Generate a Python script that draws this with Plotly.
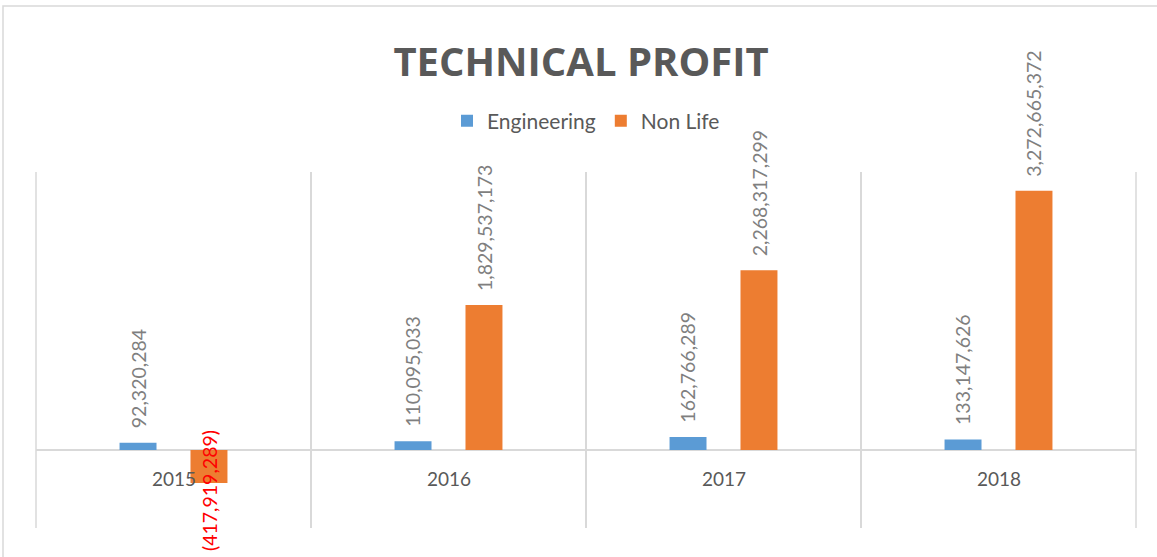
import plotly.graph_objects as go

years = ["2015", "2016", "2017", "2018"]
engineering = [92320284, 110095033, 162766289, 133147626]
non_life = [-417919289, 1829537173, 2268317299, 3272665372]
series_names = ["Engineering", "Non Life"]
colors = ["#5B9BD5", "#ED7D31"]

FONT = "Lato, Carlito, Calibri, sans-serif"
TITLE_FONT = "Open Sans, sans-serif"
W, H = 1157, 557
ML, MR, MT, MB = 36, 21, 172, 29
plot_w = W - ML - MR
plot_h = H - MT - MB
BARGAP = 0.484
BARGROUPGAP = 0.479

fig = go.Figure()
for name, vals, col in zip(series_names, [engineering, non_life], colors):
    fig.add_trace(go.Bar(x=years, y=vals, name=name, marker=dict(color=col, line=dict(width=0))))


def fmt(v):
    s = f"{abs(v):,}"
    return f"({s})" if v < 0 else s


cat_px = plot_w / len(years)
slot_px = cat_px * (1 - BARGAP) / 2
annotations = []
# category labels sitting just below the zero line (x given as category index)
for idx, yr in enumerate(years):
    annotations.append(dict(x=idx, y=0, xref="x", yref="y", text=yr, showarrow=False,
                            yanchor="middle", yshift=-29,
                            font=dict(family=FONT, size=19, color="#595959")))
# data labels
for i, vals in enumerate([engineering, non_life]):
    shift = (i - 0.5) * slot_px
    for idx, v in enumerate(vals):
        if v >= 0:
            annotations.append(dict(x=idx, y=v, xref="x", yref="y", text=fmt(v), showarrow=False,
                                    textangle=-90, xshift=shift, yanchor="bottom", yshift=12,
                                    font=dict(family=FONT, size=19.5, color="#7F7F7F")))
        else:
            annotations.append(dict(x=idx, y=v, xref="x", yref="y", text=fmt(v), showarrow=False,
                                    textangle=-90, xshift=shift, yanchor="middle", yshift=-7,
                                    font=dict(family=FONT, size=19.5, color="#FF0000")))

# outer chart frame (cropped by window on right and bottom)
fx0 = (3 - ML) / plot_w
fx1 = (W + 5 - ML) / plot_w
fy1 = (H - MB - 6) / plot_h
fy0 = (H - MB - (H + 5)) / plot_h

shapes = [dict(type="rect", xref="paper", yref="paper", x0=fx0, x1=fx1, y0=fy0, y1=fy1,
               line=dict(color="#D9D9D9", width=1.5), layer="below")]
# outer category boundary lines at both ends of the plot
for xb in (0, 1):
    shapes.append(dict(type="line", xref="paper", yref="paper", x0=xb, x1=xb, y0=0, y1=1,
                       line=dict(color="#D9D9D9", width=1.5), layer="below"))

fig.update_layout(
    width=W, height=H,
    margin=dict(l=ML, r=MR, t=MT, b=MB, pad=0),
    paper_bgcolor="white", plot_bgcolor="white",
    barmode="group", bargap=BARGAP, bargroupgap=BARGROUPGAP,
    title=dict(text="<b>TECHNICAL PROFIT</b>", x=581 / W, xref="container", xanchor="center",
               y=1 - 61.5 / H, yref="container", yanchor="middle",
               font=dict(family=TITLE_FONT, size=40, color="#595959")),
    legend=dict(orientation="h", x=(586 - ML) / plot_w, xanchor="center",
                y=(H - MB - 121) / plot_h, yanchor="middle",
                font=dict(family=FONT, size=21, color="#595959"),
                itemsizing="constant", traceorder="normal", bgcolor="rgba(0,0,0,0)"),
    xaxis=dict(type="category", tickson="boundaries", showgrid=True, gridcolor="#D9D9D9",
               gridwidth=1.5, showticklabels=False, ticks="", showline=False, zeroline=False,
               range=[-0.5, len(years) - 0.5]),
    yaxis=dict(range=[-0.985e9, 3.51e9], showgrid=False, showticklabels=False, ticks="",
               zeroline=True, zerolinecolor="#D9D9D9", zerolinewidth=2, showline=False),
    annotations=annotations,
    shapes=shapes,
    showlegend=True,
)

fig.write_html("out.html", config={"displayModeBar": False},
               post_script="document.body.style.margin='0';document.body.style.overflow='hidden';")
